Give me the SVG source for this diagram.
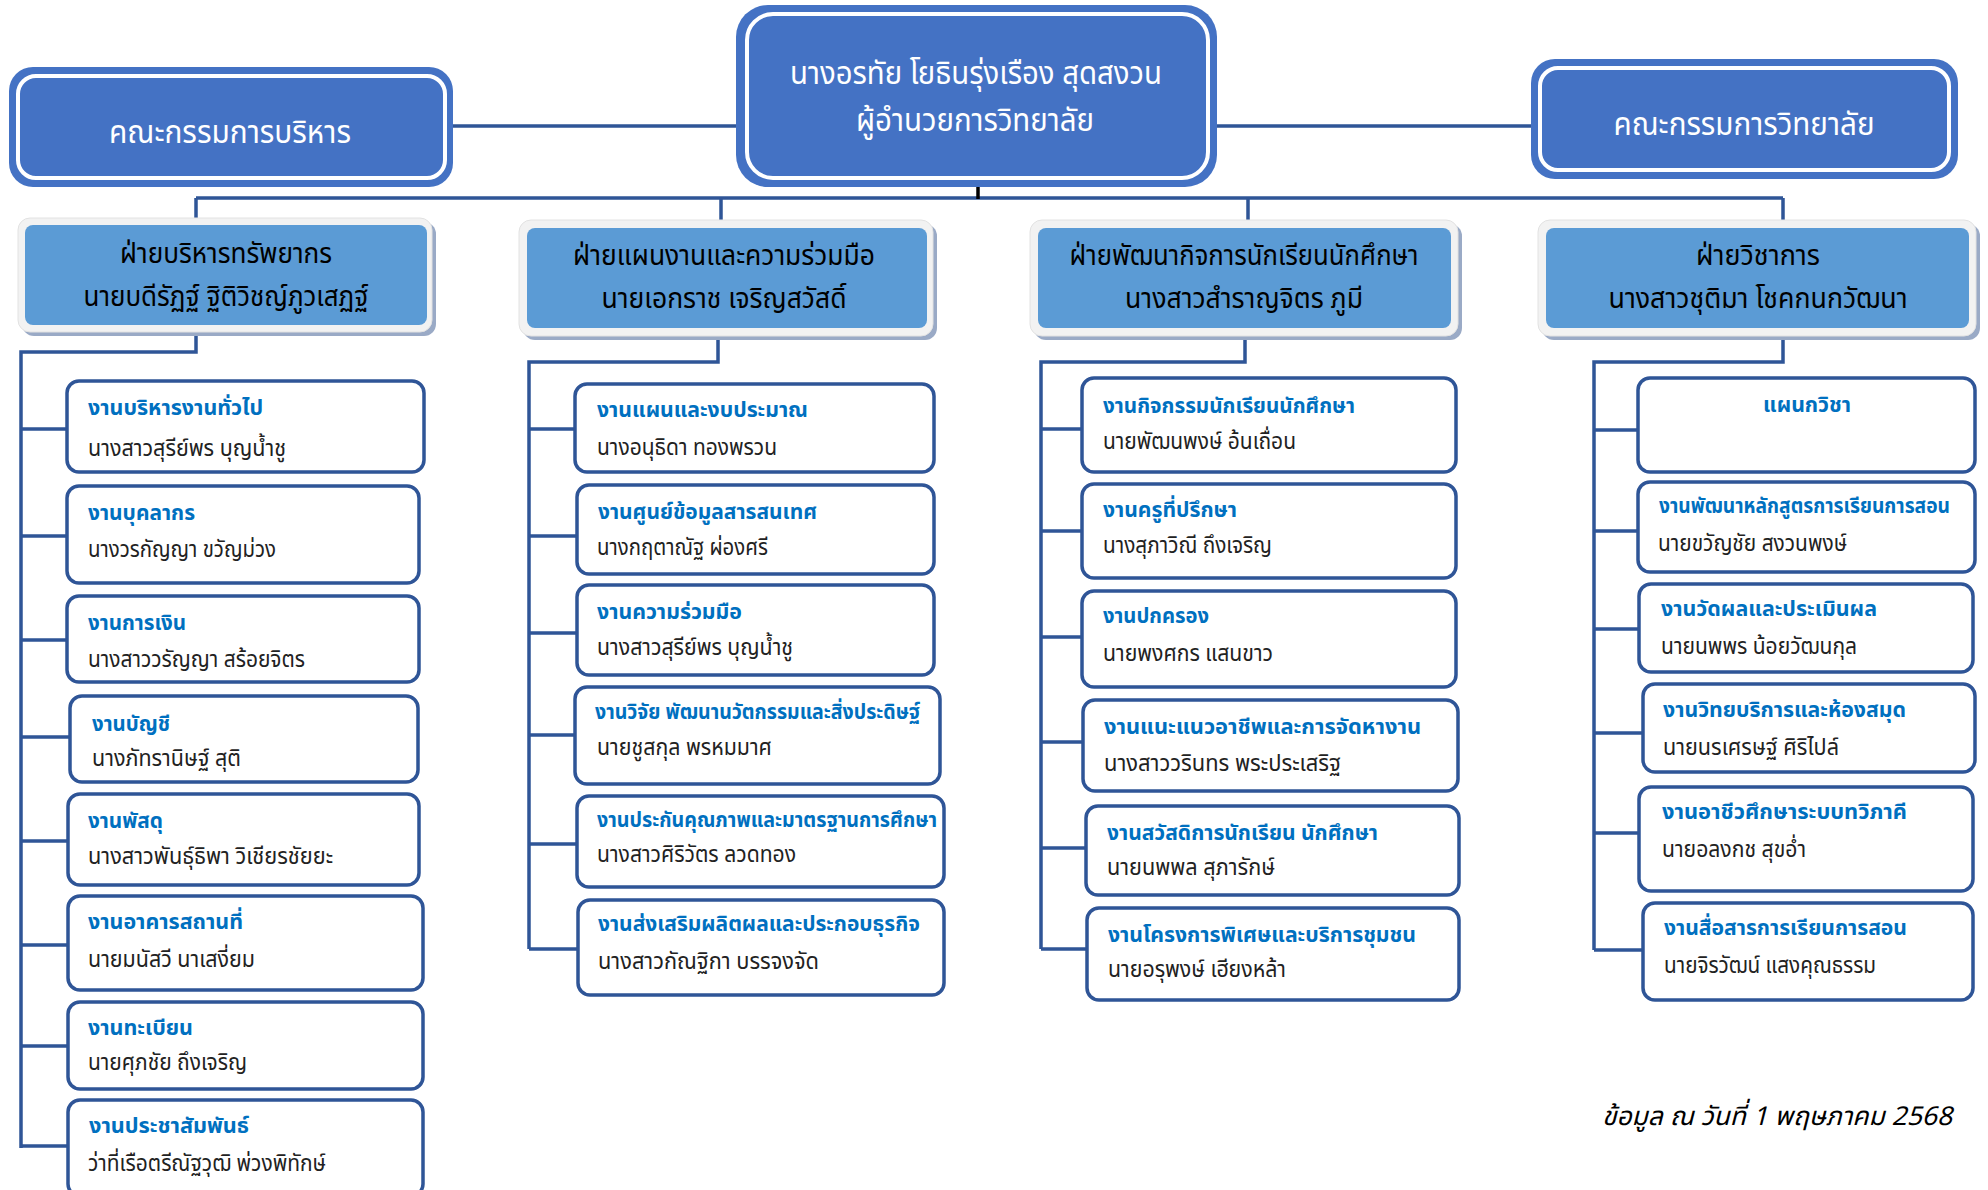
<svg xmlns="http://www.w3.org/2000/svg" width="1988" height="1190" viewBox="0 0 1988 1190">
<style>
text{font-family:"Noto Sans Thai","Noto Sans","DejaVu Sans",sans-serif}
.com{fill:#4472C4}
.ring{fill:none;stroke:#fff;stroke-width:4}
.ct{fill:#fff;font-size:32px;text-anchor:middle}
.sh{fill:#9AAAC6}
.fr{fill:#F2F2F2;stroke:#E2E2E2;stroke-width:1}
.dp{fill:#5B9BD5}
.dt{fill:#000;font-size:28px;text-anchor:middle}
.bx{fill:#fff;stroke:#2F5597;stroke-width:3.5}
.t{fill:#0070C0;font-size:21px;font-weight:bold}
.n{fill:#222;font-size:22.5px}
.ln{fill:none;stroke:#2F5597;stroke-width:3.5}
.foot{fill:#000;font-size:26px;font-style:italic}
</style>
<rect width="1988" height="1190" fill="#fff"/>
<g id="connectors">
<path class="ln" d="M453 126H736M1217 126H1531"/>
<path class="ln" d="M196 198H1783M196 198V220M721 198V220M1248 198V220M1783 198V220"/>
<path d="M978 176V199" stroke="#000" stroke-width="3.5"/>
<path class="ln" d="M196 334V352H21V1148M21 429H67M21 536H67M21 640H67M21 737H70M21 841H68M21 945H68M21 1046H68M21 1146H68"/>
<path class="ln" d="M718 338V362H529V949M529 429H575M529 536H577M529 633H577M529 735H575M529 844H577M529 949H578"/>
<path class="ln" d="M1245 338V362H1041V949M1041 429H1082M1041 531H1082M1041 637H1082M1041 742H1083M1041 848H1086M1041 949H1087"/>
<path class="ln" d="M1783 340V362H1594V950M1594 430H1638M1594 531H1638M1594 629H1639M1594 733H1643M1594 833H1639M1594 950H1643"/>
</g>
<g id="committee-admin">
<rect class="com" x="9" y="67" width="444" height="120" rx="24"/>
<rect class="ring" x="18" y="76" width="427" height="102" rx="18"/>
<text class="ct" x="230" y="143" textLength="242" lengthAdjust="spacingAndGlyphs">คณะกรรมการบริหาร</text>
</g>
<g id="director">
<rect class="com" x="736" y="5" width="481" height="182" rx="32"/>
<rect class="ring" x="747" y="14" width="461" height="164" rx="26"/>
<text class="ct" x="976" y="84" textLength="372" lengthAdjust="spacingAndGlyphs">นางอรทัย โยธินรุ่งเรือง สุดสงวน</text>
<text class="ct" x="975" y="131" textLength="238" lengthAdjust="spacingAndGlyphs">ผู้อำนวยการวิทยาลัย</text>
</g>
<g id="committee-college">
<rect class="com" x="1531" y="59" width="427" height="120" rx="24"/>
<rect class="ring" x="1540" y="68" width="409" height="102" rx="18"/>
<text class="ct" x="1744" y="135" textLength="261" lengthAdjust="spacingAndGlyphs">คณะกรรมการวิทยาลัย</text>
</g>
<g id="dept-resources">
<rect class="sh" x="22" y="222" width="414" height="114" rx="12"/>
<rect class="fr" x="18" y="218" width="414" height="114" rx="12"/>
<rect class="dp" x="25" y="225" width="402" height="100" rx="8"/>
<text class="dt" x="226" y="263" textLength="212" lengthAdjust="spacingAndGlyphs">ฝ่ายบริหารทรัพยากร</text>
<text class="dt" x="226" y="306" textLength="285" lengthAdjust="spacingAndGlyphs">นายบดีรัฏฐ์ ฐิติวิชญ์ภูวเสฏฐ์</text>
</g>
<g id="dept-planning">
<rect class="sh" x="523" y="224" width="414" height="116" rx="12"/>
<rect class="fr" x="519" y="220" width="414" height="116" rx="12"/>
<rect class="dp" x="527" y="228" width="400" height="100" rx="8"/>
<text class="dt" x="724" y="265" textLength="302" lengthAdjust="spacingAndGlyphs">ฝ่ายแผนงานและความร่วมมือ</text>
<text class="dt" x="724" y="308" textLength="245" lengthAdjust="spacingAndGlyphs">นายเอกราช เจริญสวัสดิ์</text>
</g>
<g id="dept-student">
<rect class="sh" x="1034" y="224" width="428" height="116" rx="12"/>
<rect class="fr" x="1030" y="220" width="428" height="116" rx="12"/>
<rect class="dp" x="1038" y="228" width="413" height="100" rx="8"/>
<text class="dt" x="1244" y="265" textLength="349" lengthAdjust="spacingAndGlyphs">ฝ่ายพัฒนากิจการนักเรียนนักศึกษา</text>
<text class="dt" x="1244" y="308" textLength="238" lengthAdjust="spacingAndGlyphs">นางสาวสำราญจิตร ภูมี</text>
</g>
<g id="dept-academic">
<rect class="sh" x="1542" y="224" width="438" height="116" rx="12"/>
<rect class="fr" x="1538" y="220" width="438" height="116" rx="12"/>
<rect class="dp" x="1546" y="228" width="423" height="100" rx="8"/>
<text class="dt" x="1758" y="265" textLength="124" lengthAdjust="spacingAndGlyphs">ฝ่ายวิชาการ</text>
<text class="dt" x="1758" y="308" textLength="299" lengthAdjust="spacingAndGlyphs">นางสาวชุติมา โชคกนกวัฒนา</text>
</g>
<g id="r1"><rect class="bx" x="67" y="381" width="357" height="91" rx="12"/><text class="t" x="88" y="415" textLength="175" lengthAdjust="spacingAndGlyphs">งานบริหารงานทั่วไป</text><text class="n" x="88" y="456" textLength="198" lengthAdjust="spacingAndGlyphs">นางสาวสุรีย์พร บุญน้ำชู</text></g>
<g id="r2"><rect class="bx" x="67" y="486" width="352" height="97" rx="12"/><text class="t" x="88" y="520" textLength="107" lengthAdjust="spacingAndGlyphs">งานบุคลากร</text><text class="n" x="88" y="557" textLength="188" lengthAdjust="spacingAndGlyphs">นางวรกัญญา ขวัญม่วง</text></g>
<g id="r3"><rect class="bx" x="67" y="596" width="352" height="86" rx="12"/><text class="t" x="88" y="630" textLength="98" lengthAdjust="spacingAndGlyphs">งานการเงิน</text><text class="n" x="88" y="667" textLength="217" lengthAdjust="spacingAndGlyphs">นางสาววรัญญา สร้อยจิตร</text></g>
<g id="r4"><rect class="bx" x="70" y="696" width="348" height="86" rx="12"/><text class="t" x="92" y="731" textLength="78" lengthAdjust="spacingAndGlyphs">งานบัญชี</text><text class="n" x="92" y="766" textLength="149" lengthAdjust="spacingAndGlyphs">นางภัทรานิษฐ์ สุติ</text></g>
<g id="r5"><rect class="bx" x="68" y="794" width="351" height="91" rx="12"/><text class="t" x="88" y="828" textLength="75" lengthAdjust="spacingAndGlyphs">งานพัสดุ</text><text class="n" x="88" y="864" textLength="245" lengthAdjust="spacingAndGlyphs">นางสาวพันธุ์ธิพา วิเชียรชัยยะ</text></g>
<g id="r6"><rect class="bx" x="68" y="896" width="355" height="94" rx="12"/><text class="t" x="88" y="929" textLength="155" lengthAdjust="spacingAndGlyphs">งานอาคารสถานที่</text><text class="n" x="88" y="967" textLength="167" lengthAdjust="spacingAndGlyphs">นายมนัสวี นาเสงี่ยม</text></g>
<g id="r7"><rect class="bx" x="68" y="1002" width="355" height="87" rx="12"/><text class="t" x="88" y="1035" textLength="105" lengthAdjust="spacingAndGlyphs">งานทะเบียน</text><text class="n" x="88" y="1070" textLength="159" lengthAdjust="spacingAndGlyphs">นายศุภชัย ถึงเจริญ</text></g>
<g id="r8"><rect class="bx" x="68" y="1100" width="355" height="96" rx="12"/><text class="t" x="89" y="1133" textLength="160" lengthAdjust="spacingAndGlyphs">งานประชาสัมพันธ์</text><text class="n" x="88" y="1171" textLength="238" lengthAdjust="spacingAndGlyphs">ว่าที่เรือตรีณัฐวุฒิ พ่วงพิทักษ์</text></g>
<g id="p1"><rect class="bx" x="575" y="384" width="359" height="88" rx="12"/><text class="t" x="597" y="417" textLength="211" lengthAdjust="spacingAndGlyphs">งานแผนและงบประมาณ</text><text class="n" x="597" y="455" textLength="180" lengthAdjust="spacingAndGlyphs">นางอนุธิดา ทองพรวน</text></g>
<g id="p2"><rect class="bx" x="577" y="485" width="357" height="89" rx="12"/><text class="t" x="598" y="519" textLength="219" lengthAdjust="spacingAndGlyphs">งานศูนย์ข้อมูลสารสนเทศ</text><text class="n" x="597" y="555" textLength="171" lengthAdjust="spacingAndGlyphs">นางกฤตาณัฐ ผ่องศรี</text></g>
<g id="p3"><rect class="bx" x="577" y="585" width="357" height="90" rx="12"/><text class="t" x="597" y="619" textLength="145" lengthAdjust="spacingAndGlyphs">งานความร่วมมือ</text><text class="n" x="597" y="655" textLength="196" lengthAdjust="spacingAndGlyphs">นางสาวสุรีย์พร บุญน้ำชู</text></g>
<g id="p4"><rect class="bx" x="575" y="687" width="365" height="97" rx="12"/><text class="t" x="595" y="719" textLength="325" lengthAdjust="spacingAndGlyphs">งานวิจัย พัฒนานวัตกรรมและสิ่งประดิษฐ์</text><text class="n" x="597" y="755" textLength="175" lengthAdjust="spacingAndGlyphs">นายชูสกุล พรหมมาศ</text></g>
<g id="p5"><rect class="bx" x="577" y="796" width="367" height="91" rx="12"/><text class="t" x="597" y="827" textLength="340" lengthAdjust="spacingAndGlyphs">งานประกันคุณภาพและมาตรฐานการศึกษา</text><text class="n" x="597" y="862" textLength="199" lengthAdjust="spacingAndGlyphs">นางสาวศิริวัตร ลวดทอง</text></g>
<g id="p6"><rect class="bx" x="578" y="900" width="366" height="95" rx="12"/><text class="t" x="598" y="931" textLength="322" lengthAdjust="spacingAndGlyphs">งานส่งเสริมผลิตผลและประกอบธุรกิจ</text><text class="n" x="598" y="969" textLength="221" lengthAdjust="spacingAndGlyphs">นางสาวกัณฐิกา  บรรจงจัด</text></g>
<g id="s1"><rect class="bx" x="1082" y="378" width="374" height="94" rx="12"/><text class="t" x="1103" y="413" textLength="252" lengthAdjust="spacingAndGlyphs">งานกิจกรรมนักเรียนนักศึกษา</text><text class="n" x="1103" y="449" textLength="193" lengthAdjust="spacingAndGlyphs">นายพัฒนพงษ์ อ้นเถื่อน</text></g>
<g id="s2"><rect class="bx" x="1082" y="484" width="374" height="94" rx="12"/><text class="t" x="1103" y="517" textLength="134" lengthAdjust="spacingAndGlyphs">งานครูที่ปรึกษา</text><text class="n" x="1103" y="553" textLength="169" lengthAdjust="spacingAndGlyphs">นางสุภาวิณี ถึงเจริญ</text></g>
<g id="s3"><rect class="bx" x="1082" y="591" width="374" height="96" rx="12"/><text class="t" x="1103" y="623" textLength="106" lengthAdjust="spacingAndGlyphs">งานปกครอง</text><text class="n" x="1103" y="661" textLength="170" lengthAdjust="spacingAndGlyphs">นายพงศกร แสนขาว</text></g>
<g id="s4"><rect class="bx" x="1083" y="700" width="375" height="91" rx="12"/><text class="t" x="1104" y="734" textLength="317" lengthAdjust="spacingAndGlyphs">งานแนะแนวอาชีพและการจัดหางาน</text><text class="n" x="1104" y="771" textLength="237" lengthAdjust="spacingAndGlyphs">นางสาววรินทร พระประเสริฐ</text></g>
<g id="s5"><rect class="bx" x="1086" y="806" width="373" height="89" rx="12"/><text class="t" x="1107" y="840" textLength="271" lengthAdjust="spacingAndGlyphs">งานสวัสดิการนักเรียน นักศึกษา</text><text class="n" x="1107" y="875" textLength="168" lengthAdjust="spacingAndGlyphs">นายนพพล สุภารักษ์</text></g>
<g id="s6"><rect class="bx" x="1087" y="908" width="372" height="92" rx="12"/><text class="t" x="1108" y="942" textLength="308" lengthAdjust="spacingAndGlyphs">งานโครงการพิเศษและบริการชุมชน</text><text class="n" x="1108" y="977" textLength="178" lengthAdjust="spacingAndGlyphs">นายอรุพงษ์ เฮียงหล้า</text></g>
<g id="a1"><rect class="bx" x="1638" y="378" width="337" height="94" rx="12"/><text class="t" x="1807" y="412" text-anchor="middle" textLength="88" lengthAdjust="spacingAndGlyphs">แผนกวิชา</text></g>
<g id="a2"><rect class="bx" x="1638" y="482" width="337" height="90" rx="12"/><text class="t" x="1659" y="513" textLength="291" lengthAdjust="spacingAndGlyphs">งานพัฒนาหลักสูตรการเรียนการสอน</text><text class="n" x="1658" y="551" textLength="189" lengthAdjust="spacingAndGlyphs">นายขวัญชัย สงวนพงษ์</text></g>
<g id="a3"><rect class="bx" x="1639" y="584" width="334" height="88" rx="12"/><text class="t" x="1661" y="616" textLength="216" lengthAdjust="spacingAndGlyphs">งานวัดผลและประเมินผล</text><text class="n" x="1661" y="654" textLength="196" lengthAdjust="spacingAndGlyphs">นายนพพร น้อยวัฒนกุล</text></g>
<g id="a4"><rect class="bx" x="1643" y="684" width="332" height="88" rx="12"/><text class="t" x="1663" y="717" textLength="243" lengthAdjust="spacingAndGlyphs">งานวิทยบริการและห้องสมุด</text><text class="n" x="1663" y="755" textLength="176" lengthAdjust="spacingAndGlyphs">นายนรเศรษฐ์ ศิริไปล์</text></g>
<g id="a5"><rect class="bx" x="1639" y="787" width="334" height="104" rx="12"/><text class="t" x="1662" y="819" textLength="245" lengthAdjust="spacingAndGlyphs">งานอาชีวศึกษาระบบทวิภาคี</text><text class="n" x="1662" y="857" textLength="144" lengthAdjust="spacingAndGlyphs">นายอลงกช สุขอ่ำ</text></g>
<g id="a6"><rect class="bx" x="1643" y="903" width="330" height="97" rx="12"/><text class="t" x="1664" y="935" textLength="243" lengthAdjust="spacingAndGlyphs">งานสื่อสารการเรียนการสอน</text><text class="n" x="1664" y="973" textLength="212" lengthAdjust="spacingAndGlyphs">นายจิรวัฒน์ แสงคุณธรรม</text></g>
<text class="foot" x="1952" y="1125" text-anchor="end" textLength="350" lengthAdjust="spacingAndGlyphs">ข้อมูล ณ วันที่ 1 พฤษภาคม 2568</text>
</svg>
